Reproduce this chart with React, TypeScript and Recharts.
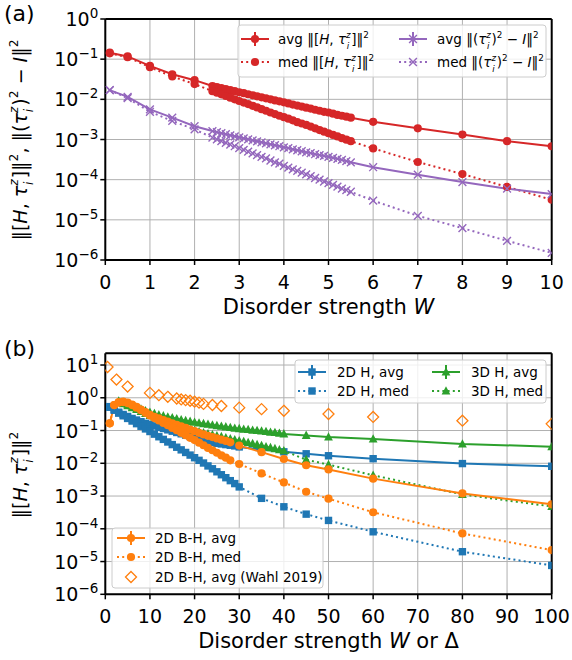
import React from 'react';
import { ComposedChart, Line, XAxis, YAxis, CartesianGrid, ReferenceLine } from 'recharts';

const FONT = '"DejaVu Sans", Verdana, sans-serif';
const RED = '#d62728';
const PURPLE = '#9467bd';
const BLUE = '#1f77b4';
const ORANGE = '#ff7f0e';
const GREEN = '#2ca02c';
const GRID = '#b0b0b0';

// ---- panel (a): disorder strength W ----
const W_VALUES = [
  0.1, 0.5, 1, 1.5, 2,
  2.4, 2.5, 2.6, 2.7, 2.8, 2.9, 3.0, 3.1, 3.2, 3.3, 3.4, 3.5, 3.6, 3.7, 3.8, 3.9,
  4.0, 4.1, 4.2, 4.3, 4.4, 4.5, 4.6, 4.7, 4.8, 4.9, 5.0, 5.1, 5.2, 5.3, 5.4, 5.5,
  6, 7, 8, 9, 10,
];
const COMM_AVG = [
  0.145, 0.117, 0.068, 0.042, 0.030,
  0.0214, 0.0202, 0.019, 0.018, 0.0169, 0.016, 0.015, 0.0142, 0.0134, 0.0126, 0.0119, 0.0112, 0.0106, 0.01, 0.0094, 0.0089,
  0.0084, 0.0079, 0.0074, 0.007, 0.0066, 0.0062, 0.0059, 0.0055, 0.0052, 0.0049, 0.0047, 0.0044, 0.0041, 0.0039, 0.0037, 0.0035,
  0.00275, 0.0019, 0.00133, 0.00091, 0.00068,
];
const COMM_MED = [
  0.14, 0.112, 0.063, 0.037, 0.024,
  0.016, 0.0146, 0.0133, 0.0121, 0.011, 0.01, 0.0091, 0.0083, 0.0076, 0.0069, 0.0063, 0.0057, 0.0052, 0.0047, 0.0043, 0.0039,
  0.0036, 0.0033, 0.003, 0.0027, 0.0025, 0.0023, 0.0021, 0.0019, 0.00172, 0.00157, 0.00143, 0.0013, 0.00119, 0.00108, 0.00099, 0.00091,
  0.0006, 0.000275, 0.000138, 0.000066, 0.0000316,
];
const SQ_AVG = [
  0.017, 0.0115, 0.0056, 0.0035, 0.00214,
  0.00162, 0.00152, 0.00143, 0.00135, 0.00127, 0.0012, 0.00113, 0.00107, 0.00101, 0.00095, 0.0009, 0.00085, 0.0008, 0.00076, 0.00072, 0.00068,
  0.00064, 0.00061, 0.00057, 0.00054, 0.00051, 0.00048, 0.00046, 0.00043, 0.00041, 0.00039, 0.00037, 0.00035, 0.00033, 0.00031, 0.00029, 0.00027,
  0.000204, 0.000133, 0.000087, 0.0000596, 0.0000437,
];
const SQ_MED = [
  0.017, 0.0107, 0.0049, 0.0029, 0.00178,
  0.00112, 0.00101, 0.00091, 0.00083, 0.00075, 0.00068, 0.00061, 0.00055, 0.0005, 0.00045, 0.00041, 0.00037, 0.00034, 0.0003, 0.00027, 0.00025,
  0.00022, 0.0002, 0.00018, 0.000165, 0.000149, 0.000135, 0.000122, 0.00011, 0.0001, 0.00009, 0.000082, 0.000074, 0.000067, 0.00006, 0.000055, 0.00005,
  0.00003, 0.0000126, 0.0000062, 0.000003, 0.0000015,
];
const A_X_TICKS = [0, 1, 2, 3, 4, 5, 6, 7, 8, 9, 10];
const A_Y_TICKS = [1e-6, 1e-5, 1e-4, 1e-3, 1e-2, 1e-1, 1];

// ---- panel (b): disorder strength W or Delta ----
const DELTA_2DH = [
  1, 2, 3, 4, 5, 6, 7, 8, 9, 10, 11, 12, 13, 14, 15, 16, 17, 18, 19, 20,
  21, 22, 23, 24, 25, 26, 27, 28, 29, 30, 35, 40, 45, 50, 60, 80, 100,
];
const AVG_2DH = [
  0.537, 0.437, 0.363, 0.309, 0.269, 0.234, 0.209, 0.186, 0.166, 0.151, 0.138, 0.126, 0.115, 0.105, 0.0955, 0.0871, 0.0794, 0.0724, 0.0661, 0.0603,
  0.055, 0.0501, 0.0468, 0.0437, 0.0407, 0.0389, 0.0372, 0.0355, 0.0339, 0.0316, 0.0263, 0.0224, 0.0195, 0.017, 0.0138, 0.0098, 0.0081,
];
const MED_2DH = [
  0.513, 0.417, 0.339, 0.282, 0.234, 0.195, 0.162, 0.135, 0.112, 0.0933, 0.0776, 0.0646, 0.0537, 0.0447, 0.0372, 0.0309, 0.0257, 0.0214, 0.0178, 0.0148,
  0.0123, 0.0102, 0.0083, 0.0068, 0.0055, 0.00447, 0.00363, 0.00295, 0.0024, 0.0019, 0.00085, 0.00047, 0.00028, 0.00018, 0.000081, 0.00002, 0.0000076,
];
const DELTA_3DH = [
  3, 4, 5, 6, 7, 8, 9, 10, 11, 12, 13, 14, 15, 16, 17, 18, 19, 20, 21, 22,
  23, 24, 25, 26, 27, 28, 29, 30, 31, 32, 33, 34, 35, 36, 37, 38, 39, 40, 45, 50, 60, 80, 100,
];
const AVG_3DH = [
  0.79, 0.71, 0.63, 0.56, 0.5, 0.45, 0.4, 0.36, 0.33, 0.3, 0.28, 0.26, 0.245, 0.23, 0.214, 0.2, 0.19, 0.178, 0.17, 0.162,
  0.155, 0.148, 0.141, 0.135, 0.129, 0.123, 0.118, 0.114, 0.11, 0.107, 0.102, 0.1, 0.096, 0.093, 0.089, 0.087, 0.083, 0.079, 0.071, 0.063, 0.055, 0.039, 0.032,
];
const MED_3DH = [
  0.76, 0.66, 0.575, 0.5, 0.437, 0.38, 0.33, 0.29, 0.257, 0.229, 0.204, 0.182, 0.162, 0.145, 0.132, 0.12, 0.11, 0.1, 0.091, 0.085,
  0.079, 0.074, 0.069, 0.065, 0.06, 0.056, 0.052, 0.049, 0.046, 0.043, 0.04, 0.037, 0.035, 0.032, 0.03, 0.028, 0.026, 0.024, 0.0129, 0.0091, 0.0043, 0.00112, 0.00048,
];
const DELTA_BH = [
  1, 2, 3, 4, 5, 6, 7, 8, 9, 10, 11, 12, 13, 14, 15, 16, 17, 18, 19, 20,
  21, 22, 23, 24, 25, 26, 27, 28, 30, 35, 40, 45, 50, 60, 80, 100,
];
const AVG_BH = [
  0.166, 0.6, 0.72, 0.76, 0.71, 0.62, 0.525, 0.437, 0.363, 0.3, 0.263, 0.234, 0.209, 0.186, 0.166, 0.148, 0.135, 0.12, 0.107, 0.0955,
  0.085, 0.076, 0.069, 0.063, 0.0575, 0.0525, 0.048, 0.0437, 0.0347, 0.0219, 0.0135, 0.0087, 0.0065, 0.0034, 0.0012, 0.00056,
];
const MED_BH = [
  0.166, 0.6, 0.72, 0.74, 0.69, 0.6, 0.5, 0.417, 0.347, 0.288, 0.24, 0.204, 0.17, 0.145, 0.12, 0.102, 0.085, 0.072, 0.06, 0.051,
  0.0427, 0.0355, 0.0295, 0.025, 0.021, 0.0174, 0.0148, 0.0123, 0.0095, 0.0049, 0.0026, 0.00135, 0.00083, 0.00032, 0.000072, 0.0000224,
];
const DELTA_WAHL = [0.5, 2.5, 5, 10, 12, 14, 16, 17, 18, 19, 20, 21, 22, 24, 26, 30, 35, 40, 50, 60, 80, 100];
const AVG_WAHL = [8.7, 3.6, 2.2, 1.41, 1.2, 1.07, 0.95, 0.89, 0.85, 0.81, 0.76, 0.71, 0.65, 0.6, 0.56, 0.5, 0.45, 0.4, 0.32, 0.26, 0.2, 0.16];
const B_X_TICKS = [0, 10, 20, 30, 40, 50, 60, 70, 80, 90, 100];
const B_Y_TICKS = [1e-6, 1e-5, 1e-4, 1e-3, 1e-2, 1e-1, 1, 10];
const B_Y_TOP = 22.8;

const pts = (xs: number[], ys: number[]) => xs.map((x, i) => ({ x, y: ys[i] }));

type Kind = 'circle' | 'square' | 'triangle' | 'x' | 'diamond';

function marker(kind: Kind, color: string, cx: number, cy: number, key?: string | number) {
  switch (kind) {
    case 'circle':
      return <circle key={key} cx={cx} cy={cy} r={4.1} fill={color} />;
    case 'square':
      return <rect key={key} x={cx - 3.7} y={cy - 3.7} width={7.4} height={7.4} fill={color} />;
    case 'triangle':
      return <path key={key} d={`M${cx},${cy - 4.8}L${cx - 4.4},${cy + 3.5}L${cx + 4.4},${cy + 3.5}Z`} fill={color} />;
    case 'x':
      return (
        <path key={key} d={`M${cx - 3.9},${cy - 3.9}L${cx + 3.9},${cy + 3.9}M${cx - 3.9},${cy + 3.9}L${cx + 3.9},${cy - 3.9}`}
          stroke={color} strokeWidth={1.4} fill="none" />
      );
    case 'diamond':
      return <path key={key} d={`M${cx},${cy - 5.5}L${cx + 5.5},${cy}L${cx},${cy + 5.5}L${cx - 5.5},${cy}Z`}
        stroke={color} strokeWidth={1.3} fill="none" />;
  }
}

const dotOf = (kind: Kind, color: string) => (p: any) => {
  if (p.cx == null || p.cy == null || isNaN(p.cy)) return <g key={p.index} />;
  return marker(kind, color, p.cx, p.cy, p.index);
};

function XTick({ x, y, payload }: any) {
  return (
    <text x={x} y={y + 22} textAnchor="middle" fontFamily={FONT} fontSize={19} fill="#000">
      {payload.value}
    </text>
  );
}

function PowTick({ x, y, payload }: any) {
  const e = Math.round(Math.log10(payload.value));
  return (
    <text x={x} y={y + 7} textAnchor="end" fontFamily={FONT} fontSize={19} fill="#000">
      10<tspan fontSize={13.5} dy={-8}>{e < 0 ? '\u2212' + -e : String(e)}</tspan>
    </text>
  );
}

const AXIS_LINE = { stroke: '#000', strokeWidth: 2 };
const TICK_LINE = { stroke: '#000', strokeWidth: 1.5 };

function series(data: { x: number; y: number }[], color: string, kind: Kind, dotted: boolean, noLine = false) {
  return (
    <Line
      data={data}
      dataKey="y"
      type="linear"
      stroke={noLine ? 'none' : color}
      strokeWidth={2}
      strokeDasharray={dotted ? '2 3.2' : undefined}
      dot={dotOf(kind, color)}
      activeDot={false}
      isAnimationActive={false}
      legendType="none"
    />
  );
}

function PanelA() {
  return (
    <ComposedChart width={572} height={320} margin={{ top: 19, right: 20.3, bottom: 30, left: 45.3 }}>
      <CartesianGrid stroke={GRID} strokeWidth={1} />
      {series(pts(W_VALUES, COMM_AVG), RED, 'circle', false)}
      {series(pts(W_VALUES, COMM_MED), RED, 'circle', true)}
      {series(pts(W_VALUES, SQ_AVG), PURPLE, 'x', false)}
      {series(pts(W_VALUES, SQ_MED), PURPLE, 'x', true)}
      <ReferenceLine x={10} stroke="#000" strokeWidth={2} ifOverflow="visible" />
      <ReferenceLine y={1} stroke="#000" strokeWidth={2} ifOverflow="visible" />
      <XAxis type="number" dataKey="x" domain={[0, 10]} ticks={A_X_TICKS} interval={0} allowDataOverflow
        height={30} tickSize={5} axisLine={AXIS_LINE} tickLine={TICK_LINE} tick={<XTick />} />
      <YAxis type="number" dataKey="y" scale="log" domain={[1e-6, 1]} ticks={A_Y_TICKS} interval={0} allowDataOverflow
        width={60} tickSize={5} axisLine={AXIS_LINE} tickLine={TICK_LINE} tick={<PowTick />} />
    </ComposedChart>
  );
}

function PanelB() {
  return (
    <ComposedChart width={572} height={340} margin={{ top: 33.3, right: 20.3, bottom: 35.7, left: 45.3 }}>
      <CartesianGrid stroke={GRID} strokeWidth={1} />
      {series(pts(DELTA_2DH, AVG_2DH), BLUE, 'square', false)}
      {series(pts(DELTA_2DH, MED_2DH), BLUE, 'square', true)}
      {series(pts(DELTA_3DH, AVG_3DH), GREEN, 'triangle', false)}
      {series(pts(DELTA_3DH, MED_3DH), GREEN, 'triangle', true)}
      {series(pts(DELTA_BH, AVG_BH), ORANGE, 'circle', false)}
      {series(pts(DELTA_BH, MED_BH), ORANGE, 'circle', true)}
      {series(pts(DELTA_WAHL, AVG_WAHL), ORANGE, 'diamond', false, true)}
      <ReferenceLine x={100} stroke="#000" strokeWidth={2} ifOverflow="visible" />
      <ReferenceLine y={B_Y_TOP} stroke="#000" strokeWidth={2} ifOverflow="visible" />
      <XAxis type="number" dataKey="x" domain={[0, 100]} ticks={B_X_TICKS} interval={0} allowDataOverflow
        height={30} tickSize={5} axisLine={AXIS_LINE} tickLine={TICK_LINE} tick={<XTick />} />
      <YAxis type="number" dataKey="y" scale="log" domain={[1e-6, B_Y_TOP]} ticks={B_Y_TICKS} interval={0} allowDataOverflow
        width={60} tickSize={5} axisLine={AXIS_LINE} tickLine={TICK_LINE} tick={<PowTick />} />
    </ComposedChart>
  );
}

// math pieces: tau_i^z with stacked sub/superscript
const SUB = 0.65;
const UP = 0.45;
const DOWN = 0.34;

function tau(fs: number, k: string) {
  const s = fs * SUB;
  return [
    <tspan key={k + 't'} fontStyle="italic">τ</tspan>,
    <tspan key={k + 'z'} fontStyle="italic" fontSize={s} dy={-fs * UP}>z</tspan>,
    <tspan key={k + 'i'} fontStyle="italic" fontSize={s} dx={-s * 0.45} dy={fs * (UP + DOWN)}>i</tspan>,
  ];
}

function commExpr(fs: number, k: string, after: string) {
  const s = fs * SUB;
  return [
    <tspan key={k + 'a'}>‖[</tspan>,
    <tspan key={k + 'H'} fontStyle="italic">H</tspan>,
    <tspan key={k + 'c'}>, </tspan>,
    ...tau(fs, k),
    <tspan key={k + 'b'} dx={s * 0.25} dy={-fs * DOWN}>]‖</tspan>,
    <tspan key={k + 'p'} fontSize={s} dy={-fs * UP}>2</tspan>,
    <tspan key={k + 'r'} dy={fs * UP}>{after}</tspan>,
  ];
}

function sqExpr(fs: number, k: string) {
  const s = fs * SUB;
  return [
    <tspan key={k + 'a'}>‖(</tspan>,
    ...tau(fs, k),
    <tspan key={k + 'b'} dx={s * 0.25} dy={-fs * DOWN}>)</tspan>,
    <tspan key={k + 'p'} fontSize={s} dy={-fs * UP}>2</tspan>,
    <tspan key={k + 'm'} dy={fs * UP}> − </tspan>,
    <tspan key={k + 'I'} fontStyle="italic">I</tspan>,
    <tspan key={k + 'e'}>‖</tspan>,
    <tspan key={k + 'q'} fontSize={s} dy={-fs * UP}>2</tspan>,
  ];
}

function Handle({ x, y, color, kind, dotted, err }: { x: number; y: number; color: string; kind: Kind; dotted?: boolean; err?: boolean }) {
  const mid = x + 14;
  return (
    <g>
      {kind !== 'diamond' && (
        <line x1={x} x2={x + 28} y1={y} y2={y} stroke={color} strokeWidth={2} strokeDasharray={dotted ? '2 3.2' : undefined} />
      )}
      {err && <line x1={mid} x2={mid} y1={y - 7} y2={y + 7} stroke={color} strokeWidth={2} />}
      {marker(kind, color, mid, y)}
    </g>
  );
}

const LFS = 13.5;

function Overlay() {
  return (
    <svg width={572} height={660} style={{ position: 'absolute', left: 0, top: 0, pointerEvents: 'none' }} fontFamily={FONT}>
      <text x={4} y={21} fontSize={22} fill="#000">(a)</text>
      <text x={4} y={356} fontSize={22} fill="#000">(b)</text>

      <text x={328.5} y={313.5} fontSize={21} textAnchor="middle" fill="#000">
        Disorder strength <tspan fontStyle="italic">W</tspan>
      </text>
      <text x={328.5} y={648} fontSize={21} textAnchor="middle" fill="#000">
        Disorder strength <tspan fontStyle="italic">W</tspan> or Δ
      </text>

      <text x={27} y={140} fontSize={19} textAnchor="middle" fill="#000" transform="rotate(-90 27 140)">
        {commExpr(19, 'ya', ', ')}
        {sqExpr(19, 'yb')}
      </text>
      <text x={27} y={475} fontSize={19} textAnchor="middle" fill="#000" transform="rotate(-90 27 475)">
        {commExpr(19, 'yc', '')}
      </text>

      {/* legend (a) */}
      <rect x={238} y={25} width={308} height={52} rx={3} fill="#fff" fillOpacity={0.8} stroke="#ccc" />
      <Handle x={241} y={39} color={RED} kind="circle" err />
      <Handle x={241} y={62} color={RED} kind="circle" dotted />
      <Handle x={399} y={39} color={PURPLE} kind="x" err />
      <Handle x={399} y={62} color={PURPLE} kind="x" dotted />
      <text x={278} y={44} fontSize={LFS} fill="#000">avg {commExpr(LFS, 'la', '')}</text>
      <text x={278} y={67} fontSize={LFS} fill="#000">med {commExpr(LFS, 'lb', '')}</text>
      <text x={437} y={44} fontSize={LFS} fill="#000">avg {sqExpr(LFS, 'lc')}</text>
      <text x={437} y={67} fontSize={LFS} fill="#000">med {sqExpr(LFS, 'ld')}</text>

      {/* legend (b) upper */}
      <rect x={295} y={360} width={251} height={43} rx={3} fill="#fff" fillOpacity={0.8} stroke="#ccc" />
      <Handle x={298} y={372} color={BLUE} kind="square" err />
      <Handle x={298} y={391} color={BLUE} kind="square" dotted />
      <Handle x={432} y={372} color={GREEN} kind="triangle" err />
      <Handle x={432} y={391} color={GREEN} kind="triangle" dotted />
      <text x={337} y={377} fontSize={LFS} fill="#000">2D H, avg</text>
      <text x={337} y={396} fontSize={LFS} fill="#000">2D H, med</text>
      <text x={471} y={377} fontSize={LFS} fill="#000">3D H, avg</text>
      <text x={471} y={396} fontSize={LFS} fill="#000">3D H, med</text>

      {/* legend (b) lower */}
      <rect x={112} y={528} width={211} height={60} rx={3} fill="#fff" fillOpacity={0.8} stroke="#ccc" />
      <Handle x={117} y={538} color={ORANGE} kind="circle" err />
      <Handle x={117} y={557} color={ORANGE} kind="circle" dotted />
      <Handle x={117} y={577} color={ORANGE} kind="diamond" />
      <text x={155} y={543} fontSize={LFS} fill="#000">2D B-H, avg</text>
      <text x={155} y={562} fontSize={LFS} fill="#000">2D B-H, med</text>
      <text x={155} y={582} fontSize={LFS} fill="#000">2D B-H, avg (Wahl 2019)</text>
    </svg>
  );
}

export default function App() {
  return (
    <div style={{ position: 'absolute', left: 0, top: 0, width: 572, height: 660, background: '#fff', fontFamily: FONT }}>
      <div style={{ position: 'absolute', left: 0, top: 0 }}>
        <PanelA />
      </div>
      <div style={{ position: 'absolute', left: 0, top: 320 }}>
        <PanelB />
      </div>
      <Overlay />
    </div>
  );
}
